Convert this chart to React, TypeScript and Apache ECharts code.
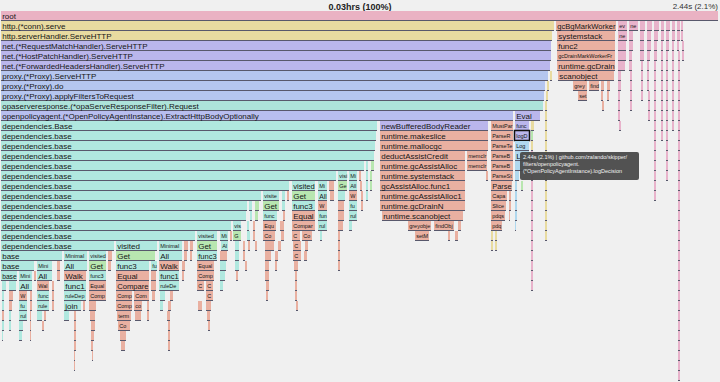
import React, { useEffect, useRef } from 'react';
import * as echarts from 'echarts';

const FONT = '"Liberation Sans", Arial, Helvetica, sans-serif';
const X_MIN = 1;
const X_MAX = 719;
const DEPTHS = 37;

const headerTotal = '0.03hrs (100%)';
const headerSelected = '2.44s (2.1%)';
const hoveredName = 'logDecision';
const tooltipLines = [
  '2.44s (2.1%) | github.com/zalando/skipper/',
  'filters/openpolicyagent.',
  '(*OpenPolicyAgentInstance).logDecision',
];

// [depth, start, end, name, family]
type Frame = [number, number, number, string, string];

const mainFrames: Frame[] = [
  [0, 1, 719, 'root', 'P'],
  [1, 1, 555, 'http.(*conn).serve', 'Y'],
  [2, 1, 553, 'http.serverHandler.ServeHTTP', 'Y'],
  [3, 1, 552, 'net.(*RequestMatchHandler).ServeHTTP', 'L'],
  [4, 1, 552, 'net.(*HostPatchHandler).ServeHTTP', 'L'],
  [5, 1, 551, 'net.(*ForwardedHeadersHandler).ServeHTTP', 'L'],
  [6, 1, 549, 'proxy.(*Proxy).ServeHTTP', 'B'],
  [6, 550, 552, '', 'Y'],
  [7, 1, 546, 'proxy.(*Proxy).do', 'B'],
  [7, 547, 549, '', 'Y'],
  [8, 1, 545, 'proxy.(*Proxy).applyFiltersToRequest', 'B'],
  [9, 1, 544, 'opaserveresponse.(*opaServeResponseFilter).Request', 'O'],
  [10, 1, 514, 'openpolicyagent.(*OpenPolicyAgentInstance).ExtractHttpBodyOptionally', 'V'],
  [10, 515, 541, 'Eval', 'L'],
  [11, 1, 378, 'dependencies.Base', 'T'],
];

const runtimeFrames: Frame[] = [
  [8, 546, 548, '', 'Y'], [9, 545, 547, '', 'Y'], [10, 545, 547, '', 'Y'],
  [11, 380, 489, 'newBufferedBodyReader', 'L'], [11, 491, 514, 'MustParseTerm', 'S'], [11, 515, 530, 'func1', 'L'], [11, 531, 535, '', 'Y'], [11, 545, 547, '', 'Y'],
  [12, 380, 489, 'runtime.makeslice', 'S'], [12, 491, 514, 'ParseRefs', 'S'], [12, 515, 530, 'logDecision', 'L'], [12, 531, 534, '', 'G'], [12, 545, 547, '', 'Y'],
  [13, 380, 489, 'runtime.mallocgc', 'S'], [13, 491, 514, 'ParseTerm', 'S'], [13, 515, 530, 'LogDecision', 'A'], [13, 531, 533, '', 'Y'], [13, 545, 547, '', 'Y'],
  [14, 380, 466, 'deductAssistCredit', 'S'], [14, 467, 488, 'memclrNoHeapPointers', 'S'], [14, 491, 514, 'ParseBody', 'S'], [14, 515, 530, 'L', 'A'], [14, 531, 533, '', 'K'], [14, 545, 547, '', 'Y'],
  [15, 380, 466, 'runtime.gcAssistAlloc', 'S'], [15, 467, 488, 'memclrNoHeapPointers', 'S'], [15, 491, 514, 'ParseBody', 'S'], [15, 515, 525, '', 'A'], [15, 531, 533, '', 'K'], [15, 545, 547, '', 'Y'],
  [16, 380, 466, 'runtime.systemstack', 'S'], [16, 486, 488, '', 'S'], [16, 491, 514, 'ParseStatements', 'S'], [16, 515, 520, '', 'A'], [16, 531, 533, '', 'K'], [16, 545, 547, '', 'Y'],
  [17, 380, 466, 'gcAssistAlloc.func1', 'S'], [17, 491, 513, 'Parse', 'S'], [17, 515, 518, '', 'A'], [17, 521, 523, '', 'G'], [17, 531, 533, '', 'K'], [17, 545, 547, '', 'Y'],
  [18, 380, 466, 'runtime.gcAssistAlloc1', 'S'], [18, 491, 508, 'Capabilities', 'S'], [18, 509, 511, '', 'S'], [18, 515, 517, '', 'A'], [18, 531, 533, '', 'K'], [18, 545, 547, '', 'Y'],
  [19, 380, 466, 'runtime.gcDrainN', 'S'], [19, 491, 507, 'Slice', 'S'], [19, 509, 511, '', 'S'], [19, 515, 517, '', 'A'], [19, 531, 533, '', 'K'], [19, 545, 547, '', 'Y'],
  [20, 382, 464, 'runtime.scanobject', 'S'], [20, 491, 506, 'pdqsort', 'S'], [20, 509, 510, '', 'S'], [20, 515, 517, '', 'A'], [20, 531, 533, '', 'K'], [20, 545, 547, '', 'Y'],
  [21, 408, 432, 'greyobject', 'S'], [21, 434, 455, 'findObject', 'S'], [21, 458, 462, '', 'S'], [21, 491, 503, 'pdqsort', 'S'], [21, 515, 516, '', 'A'], [21, 531, 533, '', 'K'], [21, 545, 547, '', 'Y'],
  [22, 415, 430, 'setMarked', 'S'], [22, 448, 451, '', 'S'], [22, 455, 459, '', 'S'], [22, 491, 494, '', 'Y'], [22, 495, 497, '', 'Y'], [22, 531, 533, '', 'K'], [22, 545, 547, '', 'Y'],
  [23, 491, 493, '', 'Y'], [23, 495, 497, '', 'Y'], [23, 531, 533, '', 'K'],
  [24, 531, 533, '', 'K'], [25, 531, 533, '', 'K'], [26, 531, 533, '', 'K'], [27, 531, 533, '', 'K'],
];

const gcFrames: Frame[] = [
  [1, 556, 617, 'gcBgMarkWorker', 'S'],
  [2, 557, 616, 'systemstack', 'S'],
  [3, 557, 616, 'func2', 'S'],
  [4, 557, 616, 'gcDrainMarkWorkerFractional', 'S'],
  [5, 557, 616, 'runtime.gcDrain', 'S'],
  [6, 558, 615, 'scanobject', 'S'],
  [7, 573, 588, 'greyobject', 'S'], [7, 589, 600, 'findObject', 'S'], [7, 601, 605, '', 'S'], [7, 607, 611, '', 'S'],
  [8, 578, 588, 'setBits', 'S'], [8, 601, 604, '', 'S'], [8, 607, 610, '', 'S'],
  [9, 602, 604, '', 'S'],
];

const pinkFrames: Frame[] = [
  [1, 618, 628, 'eval', 'K'], [2, 618, 628, 'nextFreeFast', 'K'], [3, 618, 627, '', 'K'], [4, 618, 627, '', 'K'], [5, 618, 626, '', 'K'],
  [6, 618, 622, '', 'K'], [7, 618, 622, '', 'K'], [8, 618, 621, '', 'K'], [9, 618, 621, '', 'K'], [10, 618, 621, '', 'K'], [11, 619, 621, '', 'K'],
  [1, 629, 639, 'nextFreeFast', 'K'], [2, 629, 634, '', 'K'], [3, 629, 634, '', 'K'], [4, 629, 633, '', 'K'], [5, 629, 633, '', 'K'],
  [6, 630, 633, '', 'K'], [7, 630, 633, '', 'K'], [8, 630, 632, '', 'K'], [9, 630, 632, '', 'K'],
  [1, 640, 646, '', 'K'], [2, 640, 645, '', 'K'], [3, 640, 645, '', 'K'], [4, 640, 645, '', 'K'], [5, 641, 644, '', 'K'], [6, 641, 644, '', 'K'], [7, 641, 643, '', 'K'], [8, 641, 643, '', 'K'],
  [1, 647, 653, '', 'K'], [2, 647, 652, '', 'K'], [3, 647, 652, '', 'K'], [4, 647, 651, '', 'K'], [5, 647, 650, '', 'K'], [6, 647, 650, '', 'K'], [7, 647, 650, '', 'K'], [8, 648, 650, '', 'K'], [9, 648, 650, '', 'K'], [10, 648, 650, '', 'K'],
  [1, 654, 660, '', 'K'], [2, 654, 659, '', 'K'], [3, 654, 658, '', 'K'], [4, 654, 658, '', 'K'], [5, 654, 657, '', 'K'], [6, 654, 657, '', 'K'], [7, 654, 657, '', 'K'], [8, 654, 657, '', 'K'], [9, 654, 657, '', 'K'],
  [10, 654, 657, '', 'K'], [11, 654, 657, '', 'K'], [12, 654, 657, '', 'K'], [13, 654, 656, '', 'K'], [14, 654, 656, '', 'K'], [15, 654, 656, '', 'K'], [16, 654, 656, '', 'K'], [17, 654, 656, '', 'K'], [18, 654, 656, '', 'K'],
  [1, 661, 665, '', 'K'], [2, 661, 665, '', 'K'], [3, 661, 664, '', 'K'], [4, 661, 664, '', 'K'], [5, 661, 664, '', 'K'], [6, 661, 663, '', 'K'], [7, 661, 663, '', 'K'], [8, 661, 663, '', 'K'], [9, 661, 663, '', 'K'], [10, 661, 663, '', 'K'], [11, 661, 663, '', 'K'], [12, 661, 663, '', 'K'],
  [1, 666, 671, '', 'K'], [2, 666, 670, '', 'K'], [3, 666, 670, '', 'K'], [4, 666, 669, '', 'K'], [5, 666, 668, '', 'K'], [6, 666, 668, '', 'K'], [7, 666, 668, '', 'K'], [8, 666, 668, '', 'K'], [9, 666, 668, '', 'K'],
  [10, 666, 668, '', 'K'], [11, 666, 668, '', 'K'], [12, 666, 668, '', 'K'], [13, 666, 668, '', 'K'], [14, 666, 668, '', 'K'], [15, 666, 668, '', 'K'], [16, 666, 668, '', 'K'],
  [1, 672, 676, '', 'K'], [2, 672, 676, '', 'K'], [3, 672, 675, '', 'K'], [4, 672, 675, '', 'K'], [5, 672, 675, '', 'K'], [6, 672, 674, '', 'K'], [7, 672, 674, '', 'K'], [8, 672, 674, '', 'K'], [9, 672, 674, '', 'K'], [10, 672, 674, '', 'K'], [11, 672, 674, '', 'K'],
  [1, 677, 681, '', 'K'], [2, 677, 681, '', 'K'], [3, 677, 680, '', 'K'], [4, 678, 680, '', 'K'], [5, 678, 680, '', 'K'], [6, 678, 680, '', 'K'], [7, 678, 680, '', 'K'], [8, 678, 680, '', 'K'], [9, 678, 680, '', 'K'],
  [10, 678, 680, '', 'K'], [11, 678, 680, '', 'K'], [12, 678, 680, '', 'K'], [13, 678, 680, '', 'K'], [14, 678, 680, '', 'K'], [15, 678, 680, '', 'K'], [16, 678, 680, '', 'K'], [17, 678, 680, '', 'K'], [18, 678, 680, '', 'K'],
  [19, 678, 680, '', 'K'], [20, 678, 680, '', 'K'], [21, 678, 680, '', 'K'], [22, 678, 680, '', 'K'], [23, 678, 680, '', 'K'], [24, 678, 680, '', 'K'], [25, 678, 680, '', 'K'], [26, 678, 680, '', 'K'], [27, 678, 680, '', 'K'],
  [28, 678, 680, '', 'K'], [29, 678, 680, '', 'K'], [30, 678, 680, '', 'K'], [31, 678, 680, '', 'K'], [32, 678, 680, '', 'K'], [33, 678, 680, '', 'K'], [34, 678, 680, '', 'K'], [35, 678, 680, '', 'K'], [36, 678, 680, '', 'K'],
  [1, 681, 684, '', 'K'], [2, 681, 684, '', 'K'], [3, 682, 684, '', 'K'], [4, 682, 684, '', 'K'],
];

const depFrames: Frame[] = [
  [12, 1, 377, 'dependencies.base', 'T'],
  [13, 1, 376, 'dependencies.base', 'T'],
  [14, 1, 375, 'dependencies.base', 'T'],
  [15, 1, 365, 'dependencies.base', 'T'], [15, 366, 369, '', 'T'], [15, 371, 375, '', 'G'],
  [16, 1, 337, 'dependencies.base', 'T'], [16, 338, 348, 'visited', 'T'], [16, 349, 358, 'Minimal', 'T'], [16, 359, 362, '', 'S'], [16, 366, 368, '', 'T'], [16, 370, 373, '', 'G'],
  [17, 1, 290, 'dependencies.base', 'T'], [17, 292, 316, 'visited', 'T'], [17, 318, 328, 'Minimal', 'T'], [17, 329, 335, '', 'S'], [17, 338, 348, 'Get', 'G'], [17, 349, 358, 'All', 'T'], [17, 360, 363, '', 'S'], [17, 366, 368, '', 'T'], [17, 370, 372, '', 'G'],
  [18, 1, 262, 'dependencies.base', 'T'], [18, 263, 280, 'visited', 'T'], [18, 282, 286, '', 'T'], [18, 287, 290, '', 'S'], [18, 292, 316, 'Get', 'G'], [18, 318, 328, 'All', 'T'], [18, 330, 335, '', 'S'], [18, 338, 346, '', 'T'], [18, 349, 358, 'Walk', 'S'], [18, 361, 363, '', 'S'], [18, 366, 368, '', 'T'],
  [19, 1, 248, 'dependencies.base', 'T'], [19, 249, 253, '', 'T'], [19, 255, 260, '', 'G'], [19, 263, 280, 'Get', 'G'], [19, 282, 286, '', 'T'], [19, 292, 316, 'func3', 'T'], [19, 318, 328, 'Walk', 'S'], [19, 338, 345, '', 'S'], [19, 349, 358, 'func1', 'T'], [19, 361, 363, '', 'S'],
  [20, 1, 247, 'dependencies.base', 'T'], [20, 250, 253, '', 'T'], [20, 255, 259, '', 'G'], [20, 263, 278, 'func3', 'T'], [20, 283, 286, '', 'S'], [20, 292, 316, 'Equal', 'S'], [20, 318, 328, 'func1', 'T'], [20, 338, 345, '', 'S'], [20, 349, 358, 'ruleDependencies', 'T'],
  [21, 1, 232, 'dependencies.base', 'T'], [21, 233, 242, 'visited', 'T'], [21, 247, 250, '', 'T'], [21, 253, 255, '', 'S'], [21, 263, 277, 'Equal', 'S'], [21, 280, 285, '', 'S'], [21, 292, 316, 'Compare', 'S'], [21, 318, 328, 'ruleDependencies', 'T'], [21, 338, 344, '', 'S'], [21, 349, 353, '', 'T'],
  [22, 1, 196, 'dependencies.base', 'T'], [22, 197, 218, 'visited', 'T'], [22, 220, 229, 'Minimal', 'T'], [22, 230, 232, '', 'S'], [22, 233, 242, 'Get', 'G'], [22, 247, 251, '', 'T'], [22, 253, 255, '', 'S'], [22, 263, 276, 'Compare', 'S'], [22, 281, 285, '', 'S'], [22, 292, 301, 'Compare', 'S'], [22, 302, 313, 'Compare', 'S'], [22, 320, 323, '', 'T'], [22, 338, 341, '', 'S'],
  [23, 1, 115, 'dependencies.base', 'T'], [23, 116, 158, 'visited', 'T'], [23, 159, 183, 'Minimal', 'T'], [23, 184, 189, '', 'S'], [23, 190, 194, '', 'S'], [23, 197, 218, 'Get', 'G'], [23, 221, 229, 'All', 'T'], [23, 235, 240, '', 'T'], [23, 243, 245, '', 'S'], [23, 248, 250, '', 'S'], [23, 255, 257, '', 'S'], [23, 265, 275, '', 'S'], [23, 278, 282, '', 'S'], [23, 293, 302, 'Compare', 'S'], [23, 305, 309, '', 'S'], [23, 338, 341, '', 'S'],
  [24, 1, 63, 'base', 'T'], [24, 64, 88, 'Minimal', 'T'], [24, 89, 107, 'visited', 'T'], [24, 108, 113, '', 'S'], [24, 116, 156, 'Get', 'G'], [24, 159, 183, 'All', 'T'], [24, 184, 188, '', 'S'], [24, 190, 192, '', 'S'], [24, 197, 218, 'func3', 'T'], [24, 220, 228, '', 'S'], [24, 235, 240, '', 'T'], [24, 243, 245, '', 'S'], [24, 265, 272, '', 'S'], [24, 275, 279, '', 'S'], [24, 293, 302, 'Compare', 'S'], [24, 304, 308, '', 'S'], [24, 338, 340, '', 'S'],
  [25, 1, 35, 'base', 'T'], [25, 37, 53, 'Minimal', 'T'], [25, 57, 61, '', 'S'], [25, 64, 88, 'All', 'T'], [25, 89, 107, 'Get', 'G'], [25, 108, 112, '', 'S'], [25, 116, 150, 'func3', 'T'], [25, 151, 158, 'func1', 'T'], [25, 159, 180, 'Walk', 'S'], [25, 182, 186, '', 'S'], [25, 197, 215, 'Equal', 'S'], [25, 220, 227, '', 'T'], [25, 235, 240, '', 'T'], [25, 245, 248, '', 'S'], [25, 265, 270, '', 'S'], [25, 275, 278, '', 'S'], [25, 294, 299, '', 'S'], [25, 338, 340, '', 'S'],
  [26, 1, 18, 'base', 'T'], [26, 19, 33, 'Minimal', 'T'], [26, 34, 36, '', 'S'], [26, 37, 53, 'All', 'T'], [26, 57, 61, '', 'S'], [26, 64, 87, 'Walk', 'S'], [26, 89, 107, 'func3', 'T'], [26, 116, 150, 'Equal', 'S'], [26, 151, 157, '', 'S'], [26, 159, 180, 'func1', 'T'], [26, 182, 185, '', 'S'], [26, 197, 215, 'Compare', 'S'], [26, 220, 226, '', 'T'], [26, 236, 239, '', 'S'], [26, 265, 270, '', 'S'], [26, 295, 298, '', 'S'],
  [27, 2, 7, '', 'T'], [27, 9, 17, '', 'T'], [27, 19, 33, 'All', 'T'], [27, 37, 50, 'Walk', 'S'], [27, 52, 55, '', 'S'], [27, 64, 87, 'func1', 'T'], [27, 89, 107, 'Equal', 'S'], [27, 116, 150, 'Compare', 'S'], [27, 151, 157, '', 'S'], [27, 159, 180, 'ruleDependencies', 'T'], [27, 197, 205, 'Compare', 'S'], [27, 206, 214, 'Compare', 'S'], [27, 220, 224, '', 'T'], [27, 266, 270, '', 'S'], [27, 295, 298, '', 'S'],
  [28, 2, 5, '', 'T'], [28, 9, 14, '', 'S'], [28, 19, 28, 'Walk', 'S'], [28, 30, 32, '', 'S'], [28, 37, 50, 'func1', 'T'], [28, 52, 55, '', 'S'], [28, 64, 87, 'ruleDependencies', 'T'], [28, 89, 107, 'Compare', 'S'], [28, 116, 133, 'Compare', 'S'], [28, 134, 150, 'Compare', 'S'], [28, 152, 156, '', 'S'], [28, 160, 166, '', 'T'], [28, 170, 174, '', 'S'], [28, 206, 214, 'Compare', 'S'], [28, 266, 269, '', 'S'], [28, 295, 298, '', 'S'],
  [29, 2, 5, '', 'T'], [29, 9, 13, '', 'S'], [29, 19, 28, 'func1', 'T'], [29, 30, 32, '', 'S'], [29, 37, 50, 'ruleDependencies', 'T'], [29, 52, 54, '', 'S'], [29, 64, 82, 'join', 'T'], [29, 83, 85, '', 'S'], [29, 89, 97, '', 'S'], [29, 116, 133, 'Compare', 'S'], [29, 134, 143, 'compare', 'S'], [29, 147, 150, '', 'S'], [29, 160, 164, '', 'T'], [29, 168, 172, '', 'S'], [29, 198, 203, '', 'S'], [29, 206, 212, '', 'S'], [29, 296, 298, '', 'S'],
  [30, 2, 4, '', 'S'], [30, 9, 12, '', 'T'], [30, 19, 28, 'ruleDependencies', 'T'], [30, 30, 31, '', 'S'], [30, 37, 43, '', 'T'], [30, 44, 47, '', 'S'], [30, 64, 70, '', 'T'], [30, 74, 77, '', 'S'], [30, 90, 96, '', 'S'], [30, 117, 132, 'termSlice', 'S'], [30, 135, 142, '', 'S'], [30, 147, 149, '', 'S'], [30, 167, 171, '', 'S'], [30, 207, 211, '', 'S'],
  [31, 2, 4, '', 'T'], [31, 9, 11, '', 'T'], [31, 19, 24, '', 'T'], [31, 30, 31, '', 'S'], [31, 42, 45, '', 'S'], [31, 74, 77, '', 'S'], [31, 91, 96, '', 'S'], [31, 118, 131, 'Compare', 'S'], [31, 168, 170, '', 'S'], [31, 208, 210, '', 'S'],
  [32, 2, 3, '', 'T'], [32, 19, 23, '', 'T'], [32, 30, 31, '', 'S'], [32, 74, 76, '', 'S'], [32, 91, 95, '', 'S'], [32, 120, 127, '', 'S'], [32, 168, 170, '', 'S'],
  [33, 74, 76, '', 'S'], [33, 91, 93, '', 'S'], [33, 121, 126, '', 'S'], [33, 168, 170, '', 'S'],
  [34, 74, 75, '', 'S'], [34, 92, 93, '', 'S'],
  [35, 74, 75, '', 'S'],
];

const familyColors: Record<string, string> = {
  P: '#eab2c3',
  Y: '#e8dba0',
  L: '#bab6ec',
  B: '#b5c6ef',
  O: '#ade3da',
  V: '#b8beef',
  T: '#b0e8df',
  G: '#b8e6b0',
  S: '#e9b0a1',
  K: '#e8b3cb',
  A: '#b0d8ee',
};

const allFrames: Frame[] = [...mainFrames, ...runtimeFrames, ...gcFrames, ...pinkFrames, ...depFrames];

let measureCtx: CanvasRenderingContext2D | null = null;
function measure(text: string, size: number): number {
  if (!measureCtx) measureCtx = document.createElement('canvas').getContext('2d');
  if (!measureCtx) return text.length * size * 0.5;
  measureCtx.font = `${size}px ${FONT}`;
  return measureCtx.measureText(text).width;
}

function fitLabel(name: string, w: number): { text: string; size: number } | null {
  if (!name || w < 6) return null;
  const avail = w - 1.5;
  const full = measure(name, 8);
  if (full <= avail) return { text: name, size: 8 };
  const scaled = (8 * avail) / full;
  if (scaled >= 6.6) return { text: name, size: scaled };
  const size = 5.5;
  let t = name;
  while (t.length && measure(t, size) > avail + 0.5) t = t.slice(0, -1);
  return t ? { text: t, size } : null;
}

export default function App() {
  const ref = useRef<HTMLDivElement>(null);
  useEffect(() => {
    if (!ref.current) return;
    const chart = echarts.init(ref.current, null, { renderer: 'svg' });
    const renderItem = (params: any, api: any) => {
      const f = allFrames[params.dataIndex];
      const depth = api.value(0);
      const start = api.value(1);
      const end = api.value(2);
      const p0 = api.coord([start, depth]);
      const p1 = api.coord([end, depth + 1]);
      const x = p0[0];
      const y = p0[1];
      const w = p1[0] - p0[0];
      const h = p1[1] - p0[1];
      const bw = w > 2 ? w - 1 : w;
      const children: any[] = [
        { type: 'rect', shape: { x, y, width: bw, height: h - 1 }, style: { fill: familyColors[f[4]] } },
        { type: 'rect', shape: { x, y: y + h - 1, width: bw, height: 1 }, style: { fill: 'rgba(45,45,70,0.78)' } },
      ];
      const lab = fitLabel(f[3], bw);
      if (lab) {
        children.push({
          type: 'text',
          style: {
            text: lab.text,
            x: x + 1.2,
            y: y + (h - 1) / 2 + 0.5,
            fontSize: lab.size,
            fontFamily: FONT,
            fill: '#161616',
            textAlign: 'left',
            textVerticalAlign: 'middle',
            verticalAlign: 'middle',
          },
        });
      }
      if (f[3] === hoveredName && depth === 12) {
        children.push({
          type: 'rect',
          shape: { x: x - 0.5, y: y - 0.5, width: bw + 1, height: h },
          style: { fill: 'none', stroke: '#111', lineWidth: 1.5 },
        });
      }
      return { type: 'group', children };
    };

    chart.setOption({
      animation: false,
      backgroundColor: '#f0f0f0',
      grid: { left: 1, right: 1, top: 11, height: DEPTHS * 10 },
      xAxis: { type: 'value', min: X_MIN, max: X_MAX, show: false },
      yAxis: { type: 'value', min: 0, max: DEPTHS, inverse: true, show: false },
      series: [
        {
          type: 'custom',
          renderItem,
          data: allFrames.map((f) => [f[0], f[1], f[2]]),
          clip: false,
          silent: true,
        },
      ],
    });

    const hovered = allFrames.find((f) => f[3] === hoveredName && f[0] === 12)!;
    const anchor = chart.convertToPixel({ gridIndex: 0 }, [hovered[1], hovered[0] + 1]) as number[];
    const tx = anchor[0] + 5;
    const ty = anchor[1] + 11;
    chart.setOption({
      graphic: [
        {
          type: 'text',
          left: 'center',
          top: 2,
          style: { text: headerTotal, fontSize: 9, fontWeight: 'bold', fontFamily: FONT, fill: '#222' },
        },
        {
          type: 'text',
          right: 2,
          top: 2.5,
          style: { text: headerSelected, fontSize: 8, fontFamily: FONT, fill: '#333' },
        },
        {
          type: 'rect',
          shape: { x: tx, y: ty, width: 119, height: 28, r: 2 },
          style: { fill: 'rgba(70,70,70,0.93)' },
          z: 100,
        },
        ...tooltipLines.map((line, i) => ({
          type: 'text',
          x: tx + 3,
          y: ty + 5 + i * 7,
          z: 101,
          style: { text: line, fontSize: 5.5, fontFamily: FONT, fill: '#f2f2f2', textVerticalAlign: 'middle', verticalAlign: 'middle' },
        })),
      ],
    });
    return () => chart.dispose();
  }, []);
  return (
    <div
      ref={ref}
      style={{ position: 'fixed', left: 0, top: 0, width: 720, height: 382, background: '#f0f0f0' }}
    />
  );
}
